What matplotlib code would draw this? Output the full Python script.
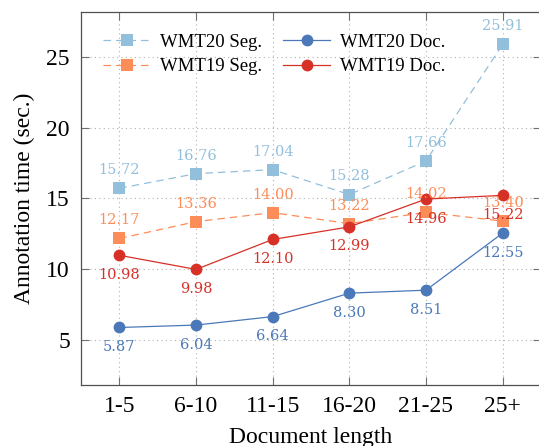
import matplotlib.pyplot as plt
import numpy as np

# document length buckets
categories = ["1-5", "6-10", "11-15", "16-20", "21-25", "25+"]

wmt20_seg = [15.72, 16.76, 17.04, 15.28, 17.66, 25.91]
wmt19_seg = [12.17, 13.36, 14.00, 13.22, 14.02, 13.40]
wmt20_doc = [5.87, 6.04, 6.64, 8.30, 8.51, 12.55]
wmt19_doc = [10.98, 9.98, 12.10, 12.99, 14.96, 15.22]

yticks = [5, 10, 15, 20, 25]

C_SEG20 = "#92bfdc"
C_SEG19 = "#fc8d59"
C_DOC20 = "#4a78b8"
C_DOC19 = "#d73027"

plt.rcParams["font.family"] = ["Liberation Serif", "DejaVu Serif"]

fig = plt.figure(figsize=(5.39, 4.46), dpi=100)
ax = fig.add_axes([0.1503, 0.1368, 0.8534, 0.8363])

x = np.arange(len(categories))

series = [
    ("WMT20 Seg.", wmt20_seg, C_SEG20, "s", (0, (6, 4)), "above"),
    ("WMT19 Seg.", wmt19_seg, C_SEG19, "s", (0, (6, 4)), "above"),
    ("WMT20 Doc.", wmt20_doc, C_DOC20, "o", "-", "below"),
    ("WMT19 Doc.", wmt19_doc, C_DOC19, "o", "-", "below"),
]

for name, vals, col, mk, ls, where in series:
    ax.plot(x, vals, color=col, marker=mk, linestyle=ls, linewidth=0.9,
            markersize=9 if mk == "s" else 8.5, markeredgewidth=0,
            label=name, zorder=3)
    dy = 13 if where == "above" else -14
    for xi, v in zip(x, vals):
        ax.annotate(f"{v:.2f}", (xi, v), xytext=(0, dy), textcoords="offset points",
                    ha="center", va="center", color=col, fontsize=10.5,
                    family="DejaVu Serif", zorder=4)

ax.set_xlim(-0.5, 5.5)
ax.set_ylim(1.8, 28.2)
ax.set_xticks(x)
ax.set_xticklabels(categories)
ax.set_yticks(yticks)

ax.grid(True, color="#b0b0b0", linestyle=(0, (1, 3)), linewidth=0.8)
ax.set_axisbelow(True)
ax.tick_params(direction="in", length=6, width=0.8, color="#707070",
               labelsize=17, top=True, right=True, pad=8)
for sp in ax.spines.values():
    sp.set_color("#505050")
    sp.set_linewidth(0.9)

ax.set_xlabel("Document length", fontsize=17, labelpad=7)
ax.set_ylabel("Annotation time (sec.)", fontsize=17, labelpad=8)

ax.legend(ncol=2, loc="upper left", bbox_to_anchor=(0.032, 0.962),
          borderaxespad=0, frameon=False, fontsize=13.5,
          handlelength=2.5, handletextpad=0.55, columnspacing=1.1,
          labelspacing=0.4, numpoints=1)

fig.savefig("out.png", dpi=100)
